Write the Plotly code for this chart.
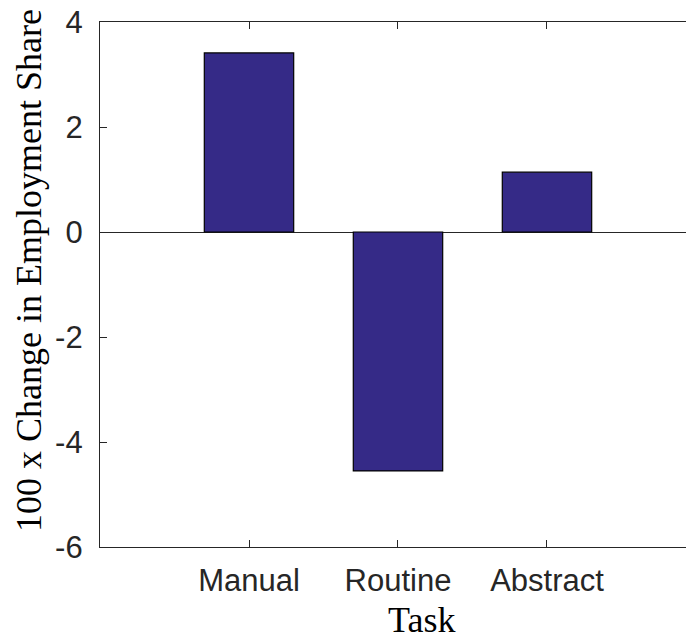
import plotly.graph_objs as go

# task categories and the change in employment share (x100)
tasks = ['Manual', 'Routine', 'Abstract']
positions = [1, 2, 3]
share_change = [3.41, -4.55, 1.14]

y_ticks = [-6, -4, -2, 0, 2, 4]
y_tick_labels = ['-6', '-4', '-2', '0', '2', '4']

axis_color = '#262626'
bar_color = '#352a87'
serif = 'Liberation Serif, Times New Roman, serif'

fig = go.Figure(data=[go.Bar(
    x=positions,
    y=share_change,
    width=0.6,
    marker=dict(color=bar_color, line=dict(color='black', width=1.2)),
    showlegend=False
)])

fig.update_layout(
    width=686,
    height=641,
    margin=dict(l=100, r=0, t=22, b=94),
    paper_bgcolor='white',
    plot_bgcolor='white',
    font=dict(family='Liberation Sans, Arial, sans-serif', size=31, color=axis_color),
    xaxis=dict(
        range=[0, 3.933],
        tickvals=positions,
        ticktext=tasks,
        ticks='inside',
        ticklen=7,
        tickcolor=axis_color,
        showline=True,
        linecolor=axis_color,
        linewidth=1.3,
        mirror='ticks',
        showgrid=False,
        zeroline=False,
        ticklabelstandoff=6,
        tickfont=dict(size=31),
    ),
    yaxis=dict(
        range=[-6, 4],
        tickvals=y_ticks,
        ticktext=y_tick_labels,
        ticks='inside',
        ticklen=7,
        tickcolor=axis_color,
        showline=True,
        linecolor=axis_color,
        linewidth=1.3,
        mirror=False,
        showgrid=False,
        zeroline=True,
        zerolinecolor=axis_color,
        zerolinewidth=1.2,
        ticklabelstandoff=10,
        tickfont=dict(size=31),
    ),
    bargap=0.4,
    annotations=[
        dict(text='Task', xref='paper', yref='paper', x=0.549, y=-0.139,
             showarrow=False, xanchor='center', yanchor='middle',
             font=dict(family=serif, size=36, color='black')),
        dict(text='100 x Change in Employment Share', xref='paper', yref='paper',
             x=-0.12, y=0.527, textangle=-90, showarrow=False,
             xanchor='center', yanchor='middle',
             font=dict(family=serif, size=36, color='black')),
    ]
)

fig.write_html("out.html", config={'displayModeBar': False},
               post_script="document.body.style.margin='0';")
